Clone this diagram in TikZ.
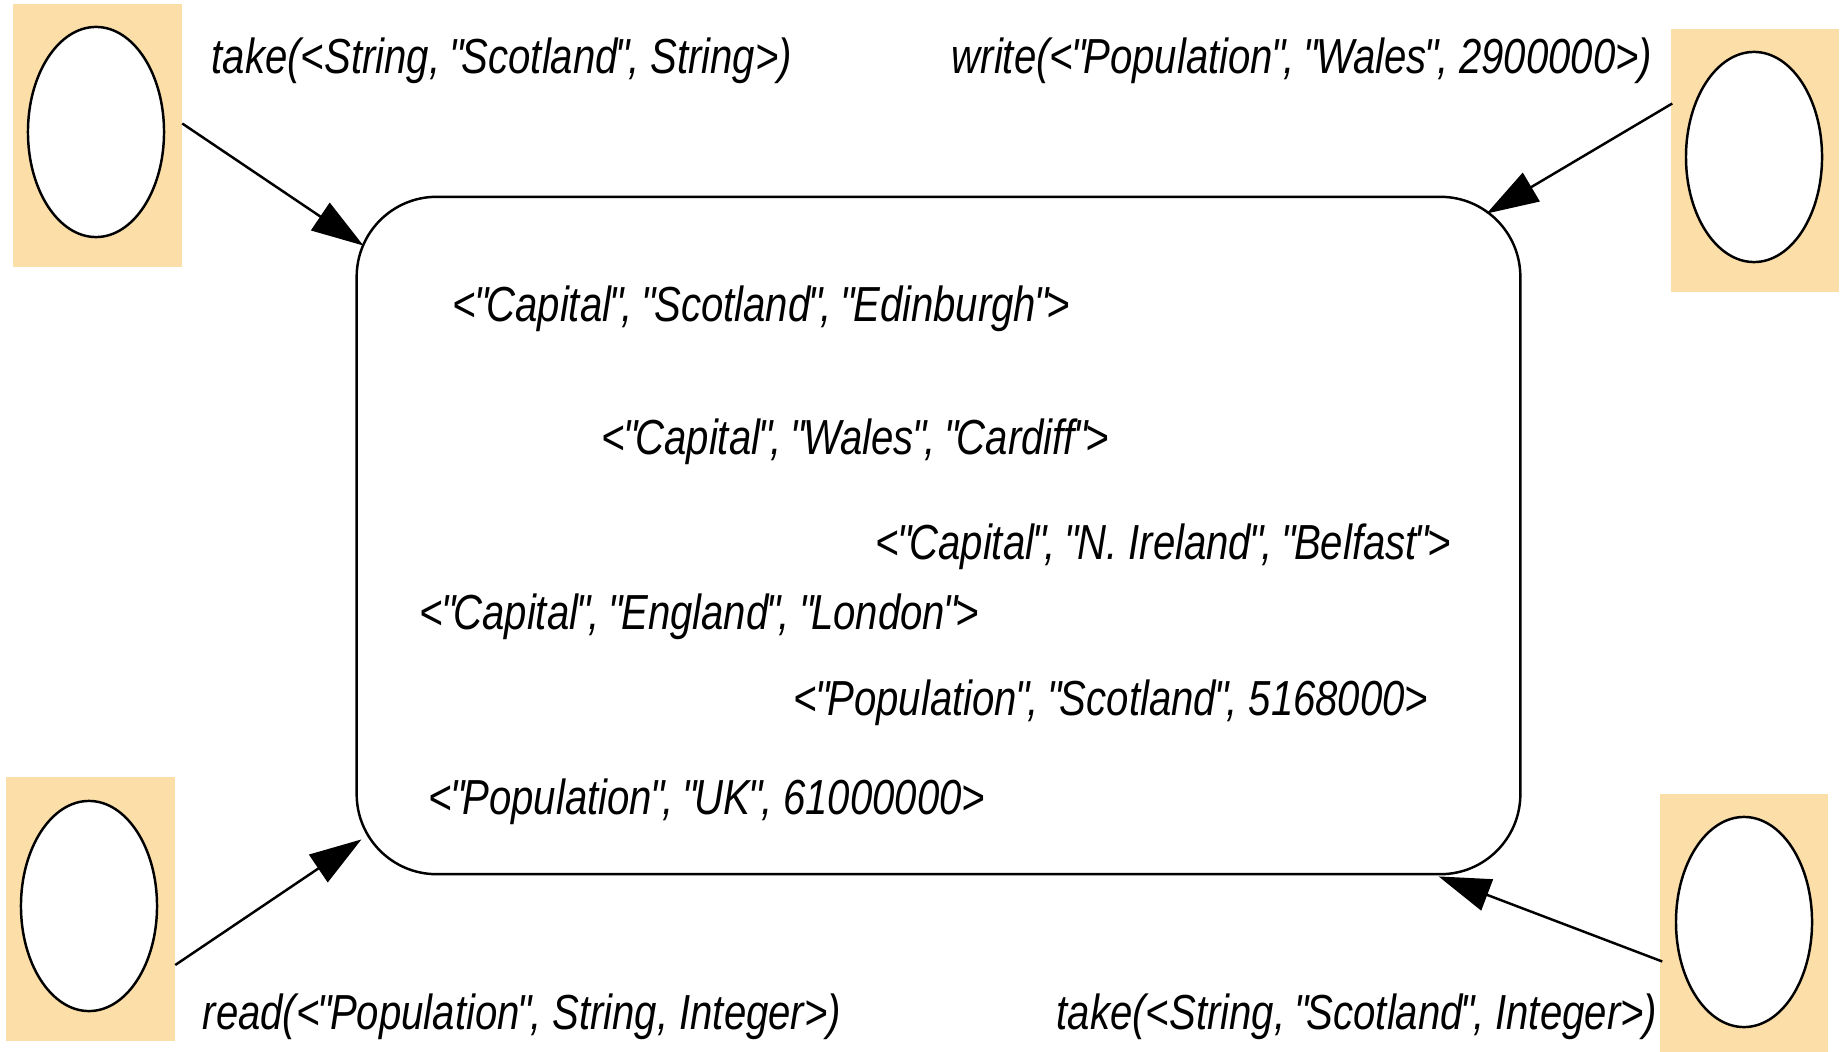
\documentclass[tikz,border=0pt]{standalone}
\usepackage{fontspec}
\setmainfont{Liberation Sans}[FakeStretch=0.815, Ligatures=TeXOff]
\usepackage{xcolor}
\usetikzlibrary{shapes.geometric, arrows.meta, calc}
\definecolor{Peach}{HTML}{FBDEA8}
\newcommand{\qm}{\kern-0.04em"\kern-0.04em}

\tikzset{
  agent/.style={rectangle, fill=Peach, minimum width=1.68cm, minimum height=2.63cm, inner sep=0pt},
  agentcore/.style={ellipse, draw, line width=0.7pt, fill=white, minimum width=1.36cm,
                    minimum height=2.10cm, inner sep=0pt},
  tuple/.style={anchor=base west, inner sep=0pt, font=\fontsize{14}{16}\selectfont\itshape},
  op/.style={-{Triangle[length=0.52cm,width=0.33cm]}, line width=0.7pt},
}

\begin{document}
\begin{tikzpicture}[x=0.01cm, y=-0.01cm]
    \useasboundingbox (0,0) rectangle (1840,1052);

    % Tuple space
    \node[rectangle, draw, line width=0.7pt, rounded corners=0.8cm,
          minimum width=11.63cm, minimum height=6.77cm, inner sep=0pt] (space) at (938.5,535.5) {};

    % Four agents
    \node[agent] (tl) at (97.5,135.5) {};
    \node[agentcore] (tlE) at (96,132) {};
    \node[agent] (tr) at (1755,160.5) {};
    \node[agentcore] (trE) at (1754,157) {};
    \node[agent] (bl) at (90.5,909) {};
    \node[agentcore] (blE) at (89,906) {};
    \node[agent] (br) at (1744,925.5) {};
    \node[agentcore] (brE) at (1744,922) {};

    % Operations
    \draw[op] ($(tl.east)+(0,-12)$) -- ($(space.north west)+(8,50)$);
    \draw[op] ($(tr.west)+(2,-57)$) -- ($(space.north east)+(-35,18)$);
    \draw[op] ($(bl.east)+(0,56)$) -- ($(space.south west)+(6,-36)$);
    \draw[op] ($(br.west)+(3,36)$) -- ($(space.south east)+(-83,1)$);

    \node[tuple] (opTL) at (211,74) {take(<String, \qm Scotland\qm, String>)};
    \node[tuple] (opTR) at (951,74) {write(<\qm Population\qm, \qm Wales\qm, 2900000>)};
    \node[tuple] (opBL) at (202,1029) {read(<\qm Population\qm, String, Integer>)};
    \node[tuple] (opBR) at (1056,1029) {take(<String, \qm Scotland\qm, Integer>)};

    % Tuples
    \node[tuple] (t1) at (452,322) {<\qm Capital\qm, \qm Scotland\qm, \qm Edinburgh\qm>};
    \node[tuple] (t2) at (601,454) {<\qm Capital\qm, \qm Wales\qm, \qm Cardiff\qm>};
    \node[tuple] (t3) at (875,559) {<\qm Capital\qm, \qm N. Ireland\qm, \qm Belfast\qm>};
    \node[tuple] (t4) at (419,629) {<\qm Capital\qm, \qm England\qm, \qm London\qm>};
    \node[tuple] (t5) at (793,715) {<\qm Population\qm, \qm Scotland\qm, 5168000>};
    \node[tuple] (t6) at (428,814) {<\qm Population\qm, \qm UK\qm, 61000000>};
\end{tikzpicture}
\end{document}
